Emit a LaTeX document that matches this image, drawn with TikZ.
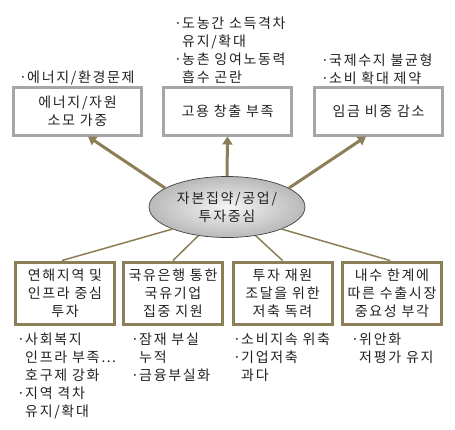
\documentclass[tikz,border=0pt]{standalone}
\usepackage{fontspec}
\setmainfont[LetterSpace=12]{Noto Sans CJK KR}
\usetikzlibrary{shapes.geometric,arrows.meta}
\definecolor{olivex}{RGB}{140,126,86}
\definecolor{topgray}{RGB}{166,166,166}
\definecolor{txt}{RGB}{34,34,34}
\newcommand{\dotln}[1]{\hbox{\hbox to 8pt{·\hss}#1}}
\newcommand{\contln}[1]{\hbox{\hskip8pt #1}}
\begin{document}
\begin{tikzpicture}[x=1pt,y=-1pt,
  every node/.style={font=\fontsize{14pt}{18pt}\selectfont, text=txt},
  topbox/.style={draw=topgray, line width=3pt, minimum width=128pt, minimum height=48pt, inner sep=0pt, align=center},
  botbox/.style={draw=olivex, line width=3pt, minimum width=99pt, minimum height=62pt, inner sep=0pt, align=center},
  note/.style={anchor=base west, inner sep=0pt},
  arr/.style={draw=olivex, line width=3pt, -{Triangle[length=8pt,width=10pt]}},
  link/.style={draw=olivex, line width=1.5pt}]
\useasboundingbox (0,0) rectangle (455,429);
\fill[white] (0,0) rectangle (455,429);

% top boxes
\node[topbox] (t1) at (77.5,111) {에너지/자원\\소모 가중};
\node[topbox] (t2) at (227.5,111) {고용 창출 부족};
\node[topbox] (t3) at (378.5,111) {임금 비중 감소};

% centre ellipse
\node[ellipse, draw=black!75, line width=0.7pt, inner color=gray!8, outer color=gray!55,
      minimum width=156pt, minimum height=61pt, inner sep=0pt, align=center] (ell) at (227,207)
      {자본집약/공업/\\투자중심};

% bottom boxes
\node[botbox] (b1) at (65,293) {연해지역 및\\인프라 중심\\투자};
\node[botbox] (b2) at (173,293) {국유은행 통한\\국유기업\\집중 지원};
\node[botbox] (b3) at (282.5,293) {투자 재원\\조달을 위한\\저축 독려};
\node[botbox] (b4) at (392,293) {내수 한계에\\따른 수출시장\\중요성 부각};

% arrows up
\draw[arr] (ell.163) -- ([xshift=10.5pt]t1.south);
\draw[arr] (ell.north) -- (t2.south);
\draw[arr] (ell.17) -- ([xshift=-12.5pt]t3.south);

% links down
\draw[link] (ell.202) -- ([xshift=-3pt]b1.north);
\draw[link] (ell.225) -- (b2.north);
\draw[link] (ell.315) -- (b3.north);
\draw[link] (ell.338) -- ([xshift=-2pt]b4.north);

% notes
\node[note] (n1) at (19,82) {\vtop{\dotln{에너지/환경문제}}};
\node[note] (n2) at (174,28) {\vtop{\dotln{도농간 소득격차}\contln{유지/확대}\dotln{농촌 잉여노동력}\contln{흡수 곤란}}};
\node[note] (n3) at (321,65) {\vtop{\dotln{국제수지 불균형}\dotln{소비 확대 제약}}};
\node[note] (n4) at (17,344) {\vtop{\dotln{사회복지}\contln{인프라 부족…}\contln{호구제 강화}\dotln{지역 격차}\contln{유지/확대}}};
\node[note] (n5) at (131,344) {\vtop{\dotln{잠재 부실}\contln{누적}\dotln{금융부실화}}};
\node[note] (n6) at (233,344) {\vtop{\dotln{소비지속 위축}\dotln{기업저축}\contln{과다}}};
\node[note] (n7) at (351,344) {\vtop{\dotln{위안화}\contln{저평가 유지}}};
\end{tikzpicture}
\end{document}
